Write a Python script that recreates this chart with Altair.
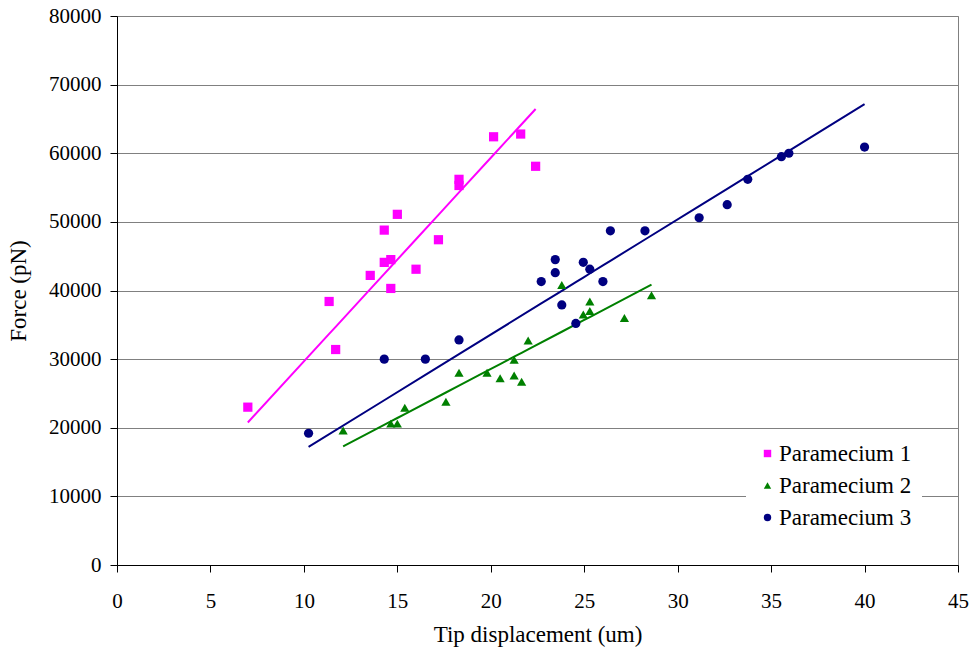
import altair as alt
import pandas as pd

# Paramecium 1 (pink squares)
p1_x = [7.0, 11.35, 11.7, 13.55, 14.3, 14.3, 14.65, 14.65, 15.0, 16.0, 17.2, 18.3, 18.3, 20.15, 21.6, 22.4]
p1_y = [23000, 38400, 31400, 42200, 48800, 44100, 44500, 40300, 51100, 43100, 47400, 56200, 55300, 62400, 62800, 58100]

# Paramecium 2 (green triangles)
p2_x = [12.1, 14.65, 15.0, 15.4, 17.6, 18.3, 19.8, 20.5, 21.25, 21.25, 21.65, 22.0, 23.8, 24.95, 25.3, 25.3, 27.15, 28.6]
p2_y = [19600, 20600, 20600, 22900, 23800, 28000, 28000, 27200, 29900, 27600, 26700, 32700, 40800, 36500, 38400, 37000, 36000, 39300]

# Paramecium 3 (navy circles)
p3_x = [10.25, 14.3, 16.5, 18.3, 22.7, 23.45, 23.45, 23.8, 24.55, 24.95, 25.3, 26.0, 26.4, 28.25,
        31.15, 32.65, 33.75, 35.55, 35.95, 40.0]
p3_y = [19200, 30000, 30000, 32800, 41300, 44500, 42600, 37900, 35200, 44100, 43100, 41300, 48700, 48700,
        50600, 52500, 56200, 59500, 60000, 60900]

names = ["Paramecium 1", "Paramecium 2", "Paramecium 3"]
colors = ["#FF00FF", "#008000", "#000080"]
shapes = ["square", "triangle-up", "circle"]

x_ticks = [0, 5, 10, 15, 20, 25, 30, 35, 40, 45]
y_ticks = [0, 10000, 20000, 30000, 40000, 50000, 60000, 70000, 80000]

rows = []
for n, xs, ys in zip(names, [p1_x, p2_x, p3_x], [p1_y, p2_y, p3_y]):
    for a, b in zip(xs, ys):
        rows.append({"x": a, "y": b, "series": n})
df = pd.DataFrame(rows)

FONT = "Liberation Serif"
FS_TICK = 21
FS_TEXT = 23

x_enc = alt.X("x:Q", scale=alt.Scale(domain=[0, 45], nice=False),
              axis=alt.Axis(values=x_ticks, title="Tip displacement (um)", grid=False,
                            labelPadding=18, titlePadding=12, format="d", labelFlush=False))
y_enc = alt.Y("y:Q", scale=alt.Scale(domain=[0, 80000], nice=False),
              axis=alt.Axis(values=y_ticks, title="Force (pN)", grid=True, gridColor="#808080",
                            gridWidth=1, labelPadding=9, titlePadding=18, format="d",
                            labelFlush=False))

leg = dict(title=None, orient="none", legendX=629, legendY=416,
           fillColor="white", padding=10, labelFont=FONT,
           labelFontSize=FS_TEXT, labelColor="black", symbolSize=55,
           rowPadding=8, labelOffset=0, symbolStrokeWidth=0)

points = alt.Chart(df).mark_point(filled=True, size=85, opacity=1).encode(
    x=x_enc,
    y=y_enc,
    color=alt.Color("series:N", scale=alt.Scale(domain=names, range=colors),
                    legend=alt.Legend(**leg)),
    shape=alt.Shape("series:N", scale=alt.Scale(domain=names, range=shapes),
                    legend=alt.Legend(**leg)),
)

# Trend lines through the origin (least squares, zero intercept), computed by Vega-Lite
lines = []
for n, c in zip(names, colors):
    lines.append(
        alt.Chart(df).transform_filter(alt.datum.series == n)
        .transform_calculate(xy="datum.x * datum.y", xx="datum.x * datum.x")
        .transform_joinaggregate(sxy="sum(xy)", sxx="sum(xx)")
        .transform_calculate(fit="datum.x * datum.sxy / datum.sxx")
        .mark_line(color=c, strokeWidth=2)
        .encode(x=alt.X("x:Q", sort=None), y="fit:Q", order="x:Q")
    )

chart = alt.layer(*lines, points).properties(
    width=841, height=549,
    background="white",
    autosize=alt.AutoSizeParams(type="none"),
    padding={"left": 117, "top": 16, "right": 11, "bottom": 87},
).configure_view(
    stroke="#808080", strokeWidth=1
).configure_axis(
    labelFont=FONT, labelFontSize=FS_TICK, labelColor="black",
    titleFont=FONT, titleFontSize=FS_TEXT, titleColor="black", titleFontWeight="normal",
    domainColor="black", tickColor="black", tickSize=7, domainWidth=1, tickWidth=1,
)

chart.save("out.html", embed_options={"renderer": "svg", "actions": False})
